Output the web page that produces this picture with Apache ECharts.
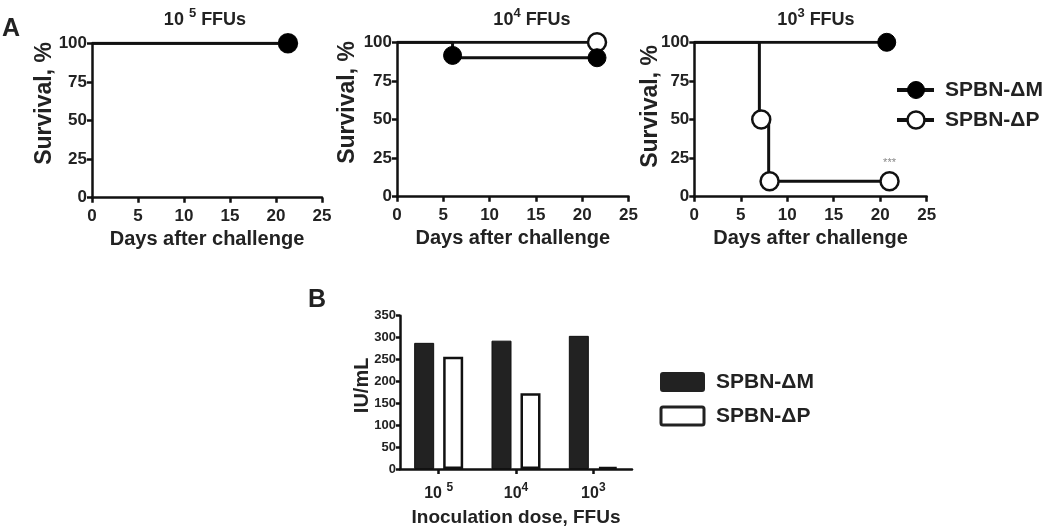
<!DOCTYPE html>
<html><head><meta charset="utf-8">
<script src="https://cdn.jsdelivr.net/npm/echarts@6/dist/echarts.min.js"></script>
<style>html,body{margin:0;padding:0;background:#fff}#c{width:1050px;height:528px}</style>
</head><body><div id="c"></div>
<script>
// ---------- Panel A: survival curves, points are [day, survival %] ----------
const seriesNames = ['SPBN-ΔM', 'SPBN-ΔP'];
const panelTitleBase = ['10 ', '10', '10'];
const panelTitleExp = ['5', '4', '3'];
const survM_1e5 = [[0, 100], [21.3, 100]];
const censM_1e5 = [[21.3, 100]];
const survP_1e5 = [[0, 100], [21.3, 100]];
const censP_1e5 = [[21.3, 100]];
const survM_1e4 = [[0, 100], [6, 90], [21.6, 90]];
const censM_1e4 = [[6, 91.5], [21.6, 90]];
const survP_1e4 = [[0, 100], [21.6, 100]];
const censP_1e4 = [[21.6, 100]];
const survM_1e3 = [[0, 100], [20.7, 100]];
const censM_1e3 = [[20.7, 100]];
const survP_1e3 = [[0, 100], [7, 50], [8, 10], [21, 10]];
const censP_1e3 = [[7.2, 50], [8.1, 10], [21, 10]];
const sigMark = '***';
const sigIndex = 2;
const dayTicks = { min: 0, max: 25, interval: 5 };
const survTicks = { min: 0, max: 100, interval: 25 };
// ---------- Panel B: IU/mL by inoculation dose ----------
const doseCategories = ['10 ^5', '10^4', '10^3'];
const iuM = [288, 293, 304];
const iuP = [256, 173, 5];
const iuTicks = { min: 0, max: 350, interval: 50 };

const FONT = 'Liberation Sans';
const INK = '#111';
const chart = echarts.init(document.getElementById('c'), null, { renderer: 'canvas' });

const grids = [
  { left: 92, top: 43.3, width: 230, height: 154.4 },
  { left: 397, top: 42.3, width: 231.5, height: 154.4 },
  { left: 694.3, top: 42.3, width: 232.4, height: 154.4 },
  { left: 400, top: 315.7, width: 232, height: 155.3 }
];
const yNameGaps = [36, 38, 32];
const yNameShift = [34, 34, 26];
const titleCenters = [200, 527, 811];

function axisBase(tickLen) {
  return {
    nameMoveOverlap: false,
    axisLine: { show: true, lineStyle: { color: INK, width: 2.5 } },
    axisTick: { show: true, inside: false, length: tickLen, lineStyle: { color: INK, width: 2.5 } },
    splitLine: { show: false },
    axisLabel: { color: '#222', fontFamily: FONT, fontWeight: 'bold', fontSize: 17 }
  };
}

const xAxes = [], yAxes = [];
for (let i = 0; i < 3; i++) {
  const xa = axisBase(5);
  xAxes.push(Object.assign(xa, {
    type: 'value', gridIndex: i, min: dayTicks.min, max: dayTicks.max, interval: dayTicks.interval,
    name: 'Days after challenge', nameLocation: 'middle', nameGap: 32,
    nameTextStyle: { color: '#222', fontFamily: FONT, fontWeight: 'bold', fontSize: 20 },
    axisLabel: Object.assign(xa.axisLabel, { margin: 10 })
  }));
  const ya = axisBase(5);
  yAxes.push(Object.assign(ya, {
    type: 'value', gridIndex: i, min: survTicks.min, max: survTicks.max, interval: survTicks.interval,
    name: 'Survival, %', nameLocation: 'middle', nameGap: yNameGaps[i],
    nameTextStyle: { color: '#222', fontFamily: FONT, fontWeight: 'bold', fontSize: 23, padding: [0, 0, 0, yNameShift[i]] },
    axisLabel: Object.assign(ya.axisLabel, { margin: 5 })
  }));
}
// bar chart axes
const xb = axisBase(5);
xAxes.push(Object.assign(xb, {
  type: 'category', gridIndex: 3, data: doseCategories, boundaryGap: true,
  axisTick: Object.assign(xb.axisTick, { alignWithLabel: true }),
  name: 'Inoculation dose, FFUs', nameLocation: 'middle', nameGap: 39,
  nameTextStyle: { color: '#222', fontFamily: FONT, fontWeight: 'bold', fontSize: 19 },
  axisLabel: {
    margin: 13, color: '#222',
    formatter: function (v) { const p = v.split('^'); return '{b|' + p[0] + '}{s|' + p[1] + '}'; },
    rich: {
      b: { fontFamily: FONT, fontWeight: 'bold', fontSize: 16, color: '#222', verticalAlign: 'bottom' },
      s: { fontFamily: FONT, fontWeight: 'bold', fontSize: 12, color: '#222', verticalAlign: 'top', padding: [0, 0, 8, 0] }
    }
  }
}));
const yb = axisBase(4);
yAxes.push(Object.assign(yb, {
  type: 'value', gridIndex: 3, min: iuTicks.min, max: iuTicks.max, interval: iuTicks.interval,
  name: 'IU/mL', nameLocation: 'middle', nameGap: 28,
  nameTextStyle: { color: '#222', fontFamily: FONT, fontWeight: 'bold', fontSize: 20, padding: [0, 0, 0, 14] },
  axisLabel: Object.assign(yb.axisLabel, { fontSize: 13, margin: 4 })
}));

function kmLine(name, data, idx) {
  return {
    type: 'line', name: name, xAxisIndex: idx, yAxisIndex: idx, data: data, step: 'end',
    showSymbol: false, symbol: 'none', silent: true, z: 3,
    lineStyle: { color: INK, width: 3 }
  };
}
function censor(name, data, idx, filled, withSig) {
  const d = data.map(function (p, k) {
    if (withSig && k === sigIndex) {
      return {
        value: p,
        label: { show: true, position: 'top', distance: 3, formatter: sigMark, color: '#888', fontFamily: FONT, fontSize: 11 }
      };
    }
    return p;
  });
  return {
    type: 'scatter', name: name, xAxisIndex: idx, yAxisIndex: idx, data: d, symbol: 'circle',
    symbolSize: 18, z: filled ? 6 : 5, silent: true,
    itemStyle: filled ? { color: '#000', borderColor: '#000', borderWidth: 1, opacity: 1 } : { color: '#fff', borderColor: INK, borderWidth: 2.5, opacity: 1 }
  };
}

const series = [
  kmLine(seriesNames[1], survP_1e5, 0), kmLine(seriesNames[0], survM_1e5, 0),
  censor(seriesNames[1], censP_1e5, 0, false), censor(seriesNames[0], censM_1e5, 0, true),
  kmLine(seriesNames[1], survP_1e4, 1), kmLine(seriesNames[0], survM_1e4, 1),
  censor(seriesNames[1], censP_1e4, 1, false), censor(seriesNames[0], censM_1e4, 1, true),
  kmLine(seriesNames[1], survP_1e3, 2), kmLine(seriesNames[0], survM_1e3, 2),
  censor(seriesNames[1], censP_1e3, 2, false, true), censor(seriesNames[0], censM_1e3, 2, true),
  {
    type: 'bar', name: seriesNames[0], xAxisIndex: 3, yAxisIndex: 3, data: iuM, barWidth: 20, barGap: '45%',
    itemStyle: { color: '#222', borderColor: '#111', borderWidth: 1 }, silent: true
  },
  {
    type: 'bar', name: seriesNames[1], xAxisIndex: 3, yAxisIndex: 3, data: iuP, barWidth: 20,
    itemStyle: { color: '#fff', borderColor: '#111', borderWidth: 2.5 }, silent: true
  }
];

const titleRich = {
  b: { fontFamily: FONT, fontWeight: 'bold', fontSize: 18, color: '#222', verticalAlign: 'bottom' },
  s: { fontFamily: FONT, fontWeight: 'bold', fontSize: 13, color: '#222', verticalAlign: 'top', padding: [0, 0, 9, 0] }
};
const titles = titleCenters.map(function (cx, i) {
  return {
    text: '{b|' + panelTitleBase[i] + '}{s|' + panelTitleExp[i] + '}{b| FFUs}',
    left: cx, top: 2, textAlign: 'center',
    textStyle: { rich: titleRich }
  };
});
titles.push({ text: 'A', left: -3, top: 12, textStyle: { fontFamily: FONT, fontWeight: 'bold', fontSize: 25, color: '#222' } });
titles.push({ text: 'B', left: 303, top: 283, textStyle: { fontFamily: FONT, fontWeight: 'bold', fontSize: 25, color: '#222' } });

const legTxt = { fontFamily: FONT, fontWeight: 'bold', fontSize: 21, fill: '#222', textVerticalAlign: 'middle', verticalAlign: 'middle' };
function lineLegend(y, filled, name) {
  return [
    { type: 'line', shape: { x1: 897, y1: y, x2: 934, y2: y }, style: { stroke: INK, lineWidth: 4 } },
    { type: 'circle', shape: { cx: 916, cy: y, r: 8.5 }, style: filled ? { fill: '#000', stroke: '#000', lineWidth: 1 } : { fill: '#fff', stroke: INK, lineWidth: 2.5 } },
    { type: 'text', x: 945, y: y, style: Object.assign({ text: name }, legTxt) }
  ];
}
function barLegend(y, filled, name) {
  return [
    { type: 'rect', shape: { x: 661, y: y - 9, width: 43, height: 18, r: 2 }, style: filled ? { fill: '#222', stroke: '#222', lineWidth: 2 } : { fill: '#fff', stroke: '#222', lineWidth: 3 } },
    { type: 'text', x: 716, y: y, style: Object.assign({ text: name }, legTxt) }
  ];
}
const graphics = [].concat(
  lineLegend(90, true, seriesNames[0]), lineLegend(120, false, seriesNames[1]),
  barLegend(382, true, seriesNames[0]), barLegend(416, false, seriesNames[1])
);

chart.setOption({
  backgroundColor: '#fff',
  animation: false,
  title: titles,
  grid: grids,
  xAxis: xAxes,
  yAxis: yAxes,
  series: series,
  graphic: graphics
});
</script></body></html>
